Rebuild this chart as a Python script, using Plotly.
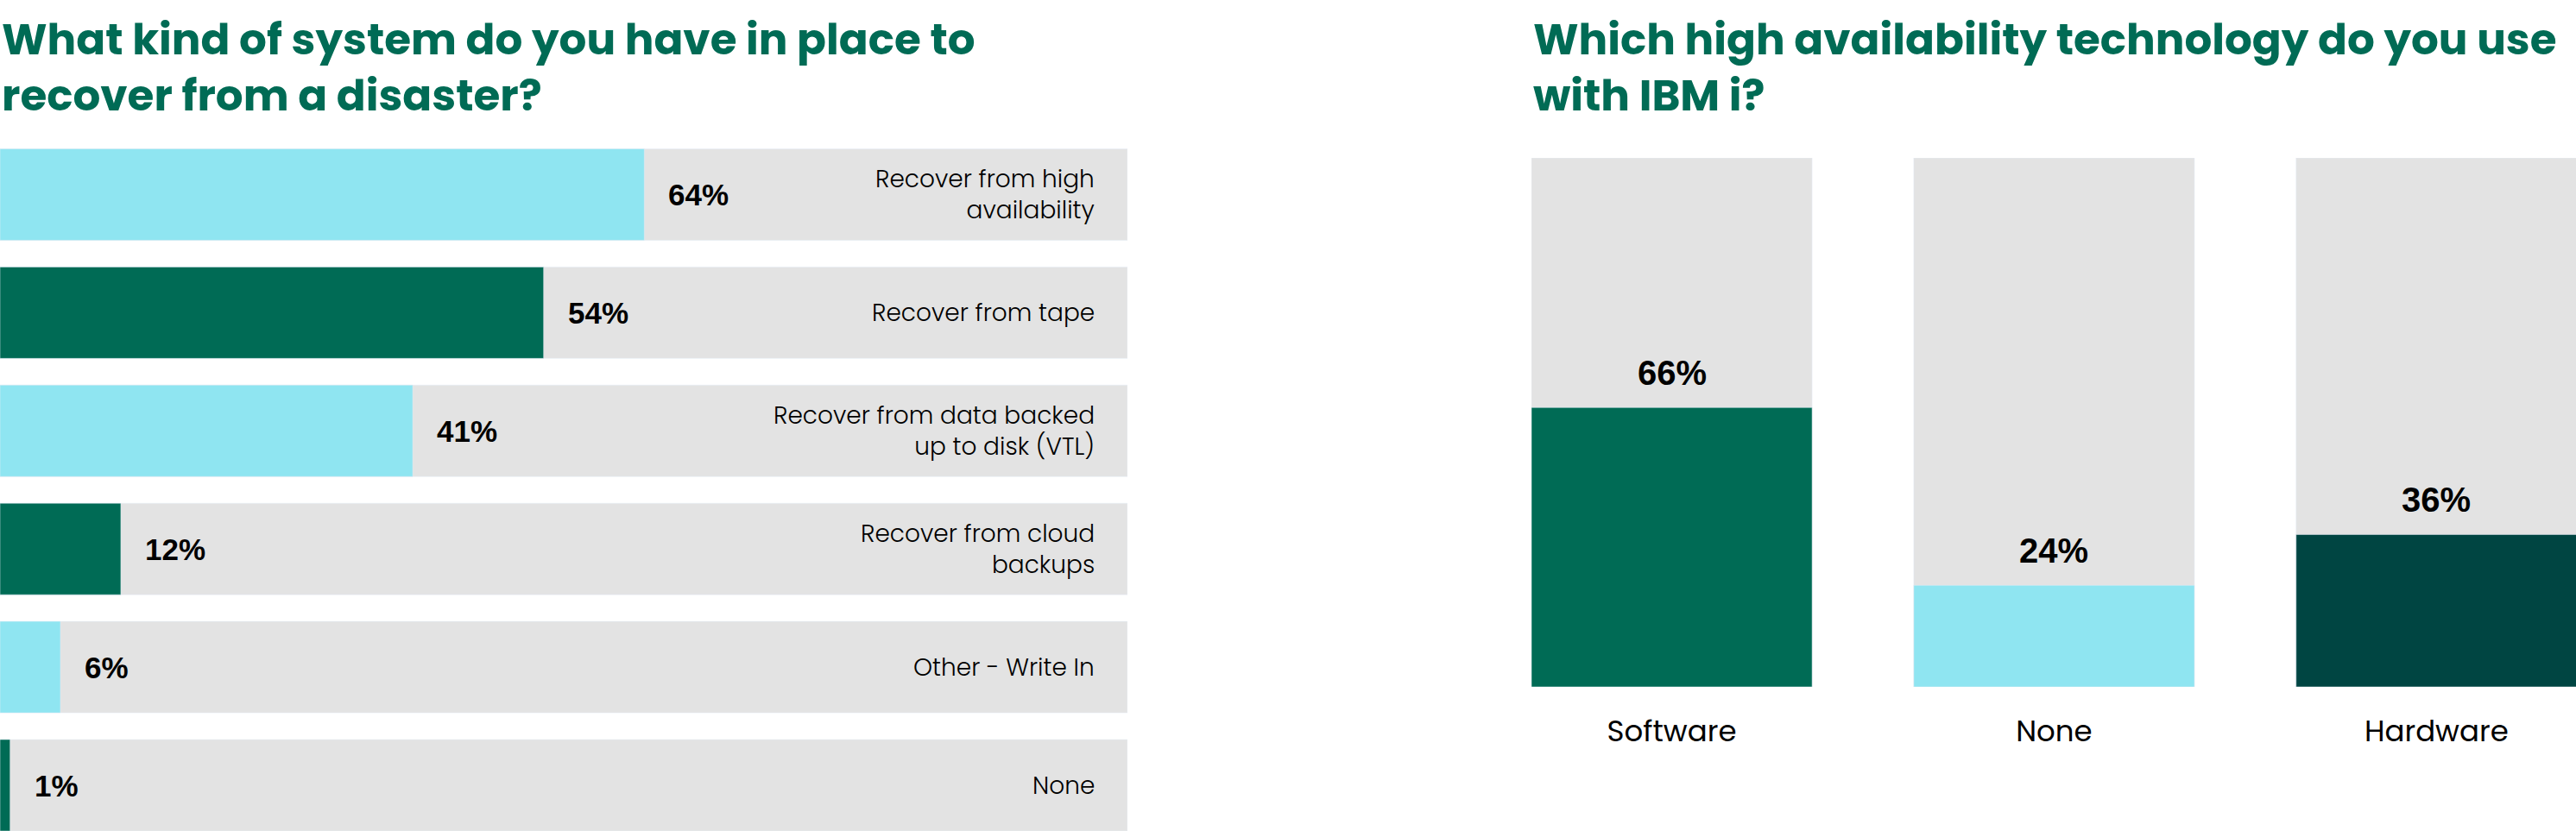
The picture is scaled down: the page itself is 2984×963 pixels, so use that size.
import plotly.graph_objs as go

# left chart: disaster recovery
dr_labels = [
    "Recover from high<br>availability",
    "Recover from tape",
    "Recover from data backed<br>up to disk (VTL)",
    "Recover from cloud<br>backups",
    "Other - Write In",
    "None",
]
dr_values = [64, 54, 41, 12, 6, 1]
dr_track = 112

# right chart: high availability technology
ha_labels = ["Software", "None", "Hardware"]
ha_values = [66, 24, 36]
ha_track = 125

CYAN = "#8FE5F1"
GREEN = "#006B55"
DARK = "#004542"
GREY = "#E3E3E3"

TITLE_FONT = dict(family="Poppins, Open Sans, sans-serif", size=50, color=GREEN, weight=700)
LABEL_FONT = "Poppins, Open Sans, sans-serif"
PCT_FONT = "Liberation Sans, Arial, sans-serif"

W, H = 2984, 963

dr_colors = [CYAN if i % 2 == 0 else GREEN for i in range(len(dr_values))]
dr_pos = list(range(len(dr_values)))

fig = go.Figure()

fig.add_trace(go.Bar(
    x=[dr_track] * len(dr_values), y=dr_pos, orientation="h",
    marker_color=GREY, width=0.774, hoverinfo="skip",
    xaxis="x", yaxis="y"
))
fig.add_trace(go.Bar(
    x=dr_values, y=dr_pos, orientation="h",
    marker_color=dr_colors, width=0.774,
    xaxis="x", yaxis="y"
))

ha_pos = list(range(len(ha_values)))
fig.add_trace(go.Bar(
    x=ha_pos, y=[ha_track] * len(ha_values),
    marker_color=GREY, width=0.734, hoverinfo="skip",
    xaxis="x2", yaxis="y2"
))
fig.add_trace(go.Bar(
    x=ha_pos, y=ha_values,
    marker_color=[GREEN, CYAN, DARK], width=0.734,
    xaxis="x2", yaxis="y2"
))

annotations = []
for i, (lab, v) in enumerate(zip(dr_labels, dr_values)):
    annotations.append(dict(
        x=v, y=i, xref="x", yref="y", text=f"{v}%", showarrow=False,
        xanchor="left", xshift=26,
        font=dict(family=PCT_FONT, size=35, color="black", weight=700)
    ))
    annotations.append(dict(
        x=dr_track, y=i, xref="x", yref="y", text=lab, showarrow=False,
        xanchor="right", xshift=-36, align="right",
        font=dict(family=LABEL_FONT, size=28, color="black", weight=300)
    ))
for i, v in enumerate(ha_values):
    annotations.append(dict(
        x=i, y=v, xref="x2", yref="y2", text=f"{v}%", showarrow=False,
        yanchor="bottom", yshift=16,
        font=dict(family=PCT_FONT, size=40, color="black", weight=700)
    ))

annotations.append(dict(
    x=0, y=1, xref="paper", yref="paper", xanchor="left", yanchor="top",
    yshift=-8, align="left", showarrow=False, font=TITLE_FONT,
    text="What kind of system do you have in place to<br>recover from a disaster?"
))
annotations.append(dict(
    x=1774 / W, y=1, xref="paper", yref="paper", xanchor="left", yanchor="top",
    yshift=-8, align="left", showarrow=False, font=TITLE_FONT,
    text="Which high availability technology do you use<br>with IBM i?"
))

fig.update_layout(
    width=W, height=H,
    barmode="overlay",
    showlegend=False,
    plot_bgcolor="white",
    paper_bgcolor="white",
    margin=dict(l=0, r=0, t=0, b=0),
    annotations=annotations,
    xaxis=dict(domain=[0, 1306 / W], range=[0, dr_track], visible=False, fixedrange=True),
    yaxis=dict(domain=[0, 1 - 157 / H], range=[5.387, -0.5], visible=False, fixedrange=True),
    xaxis2=dict(
        domain=[1774 / W, 1], range=[-0.367, 2.365], anchor="y2",
        tickvals=ha_pos, ticktext=ha_labels, ticks="", showgrid=False,
        showline=False, zeroline=False, ticklabelstandoff=28, automargin=False,
        tickfont=dict(family=LABEL_FONT, size=34, color="black"), fixedrange=True
    ),
    yaxis2=dict(
        domain=[(H - 796) / H, (H - 183) / H], range=[0, ha_track], anchor="x2",
        visible=False, fixedrange=True
    ),
)

# drop the default page margin so the figure sits flush with the window
fig.write_html(
    "out.html",
    config={"displayModeBar": False},
    post_script="document.body.style.margin='0';document.body.style.overflow='hidden';"
)
